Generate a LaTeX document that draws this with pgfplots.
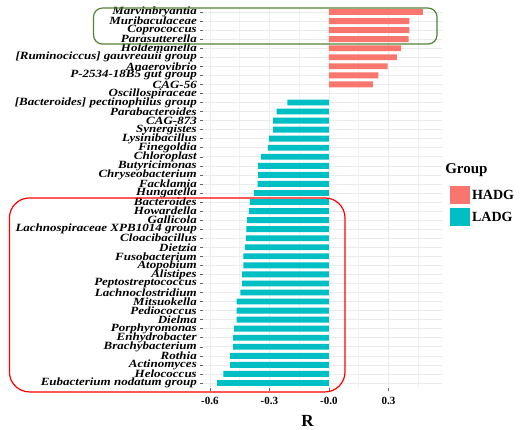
\documentclass[border=0pt]{standalone}
\usepackage{pgfplots}
\pgfplotsset{compat=1.18}
\usepackage{fontspec}
\setmainfont{Liberation Serif}
\definecolor{hadg}{HTML}{F8766D}
\definecolor{ladg}{HTML}{00BFC4}
\definecolor{gridc}{HTML}{EBEBEB}
\definecolor{boxgreen}{HTML}{548235}
\begin{document}
\begin{tikzpicture}[x=1pt,y=1pt]
\path[use as bounding box] (0,0) rectangle (522,430);
\begin{axis}[
 at={(203pt,41.6pt)}, anchor=south west,
 scale only axis, width=239pt, height=381.8pt,
 xbar, bar shift=0pt, bar width=0.65,
 xmin=-0.635, xmax=0.57,
 ymin=0.4, ymax=42.6, y dir=reverse,
 ytick={1,...,42},
 yticklabels={{Marvinbryantia},{Muribaculaceae},{Coprococcus},{Parasutterella},{Holdemanella},{[Ruminociccus] gauvreauii group},{Anaerovibrio},{P-2534-18B5 gut group},{CAG-56},{Oscillospiraceae},{[Bacteroides] pectinophilus group},{Parabacteroides},{CAG-873},{Synergistes},{Lysinibacillus},{Finegoldia},{Chloroplast},{Butyricimonas},{Chryseobacterium},{Facklamia},{Hungatella},{Bacteroides},{Howardella},{Gallicola},{Lachnospiraceae XPB1014 group},{Cloacibacillus},{Dietzia},{Fusobacterium},{Atopobium},{Alistipes},{Peptostreptococcus},{Lachnoclostridium},{Mitsuokella},{Pediococcus},{Dielma},{Porphyromonas},{Enhydrobacter},{Brachybacterium},{Rothia},{Actinomyces},{Helococcus},{Eubacterium nodatum group}},
 xtick={-0.6,-0.3,0,0.3}, xticklabels={-0.6,-0.3,-0.0,0.3},
 minor xtick={-0.45,-0.15,0.15,0.45},
 grid=both,
 major grid style={draw=gridc, line width=0.6pt},
 minor grid style={draw=gridc!70, line width=0.4pt},
 axis line style={draw=none},
 tick align=outside, xtick pos=bottom, ytick pos=left,
 major tick length=3pt, minor tick length=0pt,
 tick style={black!60, line width=0.5pt},
 yticklabel style={font=\bfseries\itshape\fontsize{13}{13}\selectfont, inner sep=0pt, xshift=-3pt, yscale=0.85},
 xticklabel style={font=\bfseries\fontsize{11}{11}\selectfont, yshift=-2pt},
 xlabel={R},
 xlabel style={font=\bfseries\fontsize{17}{17}\selectfont, xshift=-15pt, yshift=-4pt},
 clip=false,
 legend style={at={(1.033,0.530)}, anchor=north west, draw=none, fill=none,
   font=\bfseries\fontsize{14}{14}\selectfont, row sep=4pt, inner sep=0pt,
   nodes={inner sep=2pt}},
 legend cell align=left,
 legend image code/.code={\fill[#1, draw=none] (0pt,-9pt) rectangle (20pt,9pt);},
]
\addplot[fill=hadg, draw=none] coordinates {
 (0.473,1) (0.406,2) (0.406,3) (0.402,4) (0.364,5) (0.343,6) (0.296,7) (0.249,8) (0.221,9)
};
\addlegendentry{HADG}
\addplot[fill=ladg, draw=none] coordinates {
 (-0.209,11) (-0.264,12) (-0.281,13) (-0.281,14) (-0.301,15) (-0.308,16) (-0.343,17)
 (-0.357,18) (-0.357,19) (-0.360,20) (-0.379,21) (-0.399,22) (-0.404,23) (-0.412,24)
 (-0.416,25) (-0.419,26) (-0.424,27) (-0.431,28) (-0.431,29) (-0.438,30) (-0.438,31)
 (-0.446,32) (-0.466,33) (-0.466,34) (-0.466,35) (-0.478,36) (-0.483,37) (-0.483,38)
 (-0.498,39) (-0.498,40) (-0.532,41) (-0.564,42)
};
\addlegendentry{LADG}
\draw[boxgreen, line width=1.2pt, rounded corners=9pt]
  (axis cs:-1.187,0.558) rectangle (axis cs:0.545,4.54);
\draw[red, line width=1.2pt, rounded corners=20pt]
  (axis cs:-1.611,21.55) rectangle (axis cs:0.081,42.99);
\node[anchor=west, font=\bfseries\fontsize{15}{15}\selectfont, inner sep=0pt]
  at (rel axis cs:1.013,0.572) {Group};
\end{axis}
\end{tikzpicture}
\end{document}
